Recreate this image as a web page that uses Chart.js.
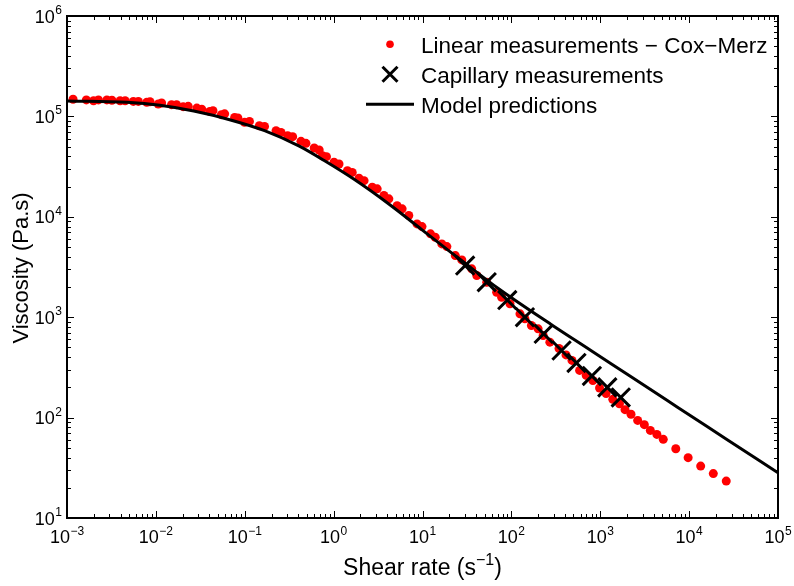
<!DOCTYPE html>
<html><head><meta charset="utf-8">
<script src="https://cdn.jsdelivr.net/npm/chart.js@4/dist/chart.umd.min.js"></script>
<style>html,body{margin:0;padding:0;background:#fff;}canvas{display:block;}</style>
</head><body>
<canvas id="c" width="794" height="586"></canvas>
<script>
// ---- data ----
const linearShearRate = [
  1.17e-3, 1.65e-3, 1.99e-3, 2.26e-3, 2.81e-3, 3.20e-3, 3.96e-3, 4.51e-3, 5.58e-3, 6.35e-3,
  7.89e-3, 8.59e-3, 1.064e-2, 1.16e-2, 1.50e-2, 1.71e-2, 2.03e-2, 2.31e-2, 2.89e-2, 3.28e-2,
  4.04e-2, 4.39e-2, 5.46e-2, 5.94e-2, 7.69e-2, 8.37e-2, 9.95e-2, 0.113, 0.146, 0.167,
  0.225, 0.256, 0.304, 0.346, 0.429, 0.488, 0.605, 0.688, 0.749, 0.831,
  1.01, 1.15, 1.43, 1.62, 1.93, 2.20, 2.72, 3.09, 3.68, 4.18,
  5.18, 5.90, 7.01, 8.68, 9.87, 12.3, 13.9, 16.5, 18.8, 23.4,
  27.7, 35.8, 40.8, 52.8, 68.3, 77.7, 96.5, 125, 142, 168,
  200, 228, 271, 344, 412, 481, 586, 695, 826, 982,
  1164, 1384, 1645, 1900, 2219, 2637, 3134, 3659, 4337, 5117,
  7079, 9745, 13490, 18710, 26160
];
const linearViscosity = [
  1.48e5, 1.46e5, 1.43e5, 1.46e5, 1.46e5, 1.45e5, 1.43e5, 1.43e5, 1.41e5, 1.41e5,
  1.38e5, 1.40e5, 1.33e5, 1.36e5, 1.31e5, 1.31e5, 1.25e5, 1.26e5, 1.21e5, 1.18e5,
  1.12e5, 1.14e5, 1.04e5, 1.06e5, 9.77e4, 9.64e4, 8.72e4, 8.92e4, 8.08e4, 7.95e4,
  7.21e4, 6.93e4, 6.43e4, 6.28e4, 5.64e4, 5.39e4, 4.85e4, 4.63e4, 4.06e4, 3.97e4,
  3.49e4, 3.36e4, 2.88e4, 2.77e4, 2.42e4, 2.29e4, 1.97e4, 1.90e4, 1.63e4, 1.51e4,
  1.29e4, 1.20e4, 1.03e4, 8500, 7990, 6760, 6250, 5370, 5050, 4110,
  3720, 3030, 2600, 2230, 1770, 1580, 1360, 1080, 964, 827,
  766, 658, 564, 488, 421, 371, 295, 263, 234, 197,
  174, 152, 137, 120, 108, 93.8, 85.0, 74.6, 68.0, 60.7,
  49.0, 39.9, 32.9, 27.7, 23.3
];
const capillaryShearRate = [30.2, 52.8, 90.0, 142, 231, 367, 540, 805, 1201, 1701];
const capillaryViscosity = [3270, 2230, 1480, 1000, 684, 466, 350, 260, 200, 159];
const modelShearRate = [1e-3, 4.75e-3, 1.11e-2, 2.67e-2, 6.76e-2, 0.167, 0.411, 0.783, 1.70, 4.18,
  9.80, 19.7, 27.5, 71.3, 280, 785, 2201, 7396, 26850, 1e5];
const modelViscosity = [1.42e5, 1.38e5, 1.29e5, 1.13e5, 9.27e4, 7.21e4, 5.05e4, 3.63e4, 2.36e4, 1.34e4,
  7460, 4610, 3670, 1930, 846, 466, 256, 127, 60.3, 28.2];

const xTickValues = [1e-3, 1e-2, 1e-1, 1, 10, 100, 1e3, 1e4, 1e5];
const xTickExponents = ['\u22123', '\u22122', '\u22121', '0', '1', '2', '3', '4', '5'];
const yTickValues = [10, 100, 1e3, 1e4, 1e5, 1e6];
const yTickExponents = ['1', '2', '3', '4', '5', '6'];
const seriesLabels = ['Linear measurements \u2212 Cox\u2212Merz', 'Capillary measurements', 'Model predictions'];
const xAxisTitle = ['Shear rate (s', '\u22121', ')'];
const yAxisTitle = 'Viscosity (Pa.s)';

const FONT = '"Liberation Sans", Arial, Helvetica, sans-serif';
const toXY = (xs, ys) => xs.map((v, i) => ({x: v, y: ys[i]}));

const decor = {
  id: 'decor',
  afterDraw(chart) {
    const {ctx, chartArea: a, scales: {x, y}} = chart;
    ctx.save();
    ctx.fillStyle = '#000';
    ctx.strokeStyle = '#000';
    // minor + major ticks (inward, all four sides)
    ctx.lineWidth = 1;
    ctx.beginPath();
    const xt = (v, len) => {
      const p = Math.round(x.getPixelForValue(v)) + 0.5;
      ctx.moveTo(p, a.bottom); ctx.lineTo(p, a.bottom - len);
      ctx.moveTo(p, a.top); ctx.lineTo(p, a.top + len);
    };
    const yt = (v, len) => {
      const p = Math.round(y.getPixelForValue(v)) + 0.5;
      ctx.moveTo(a.left, p); ctx.lineTo(a.left + len, p);
      ctx.moveTo(a.right, p); ctx.lineTo(a.right - len, p);
    };
    xTickValues.forEach((v, i) => {
      xt(v, 7);
      if (i < xTickValues.length - 1) for (let m = 2; m <= 9; m++) xt(v * m, 4);
    });
    yTickValues.forEach((v, i) => {
      yt(v, 7);
      if (i < yTickValues.length - 1) for (let m = 2; m <= 9; m++) yt(v * m, 4);
    });
    ctx.stroke();
    // box
    ctx.lineWidth = 2;
    ctx.strokeRect(a.left, a.top, a.right - a.left, a.bottom - a.top);

    // tick labels
    ctx.textBaseline = 'alphabetic';
    ctx.textAlign = 'left';
    const measure = (t, f) => { ctx.font = f; return ctx.measureText(t).width; };
    const big = '18px ' + FONT, small = '12px ' + FONT;
    const pow = (exp, left, base) => {
      ctx.font = big; ctx.fillText('10', left, base);
      const w = ctx.measureText('10').width;
      ctx.font = small; ctx.fillText(exp, left + w + 0.5, base - 8.5);
    };
    xTickValues.forEach((v, i) => {
      const w = measure('10', big) + 0.5 + measure(xTickExponents[i], small);
      pow(xTickExponents[i], x.getPixelForValue(v) - w / 2, a.bottom + 25);
    });
    yTickValues.forEach((v, i) => {
      const w = measure('10', big) + 0.5 + measure(yTickExponents[i], small);
      pow(yTickExponents[i], a.left - 5 - w, y.getPixelForValue(v) + 6.5);
    });

    // x axis title with superscript
    const tf = '23px ' + FONT, sf = '16px ' + FONT;
    const w0 = measure(xAxisTitle[0], tf), w1 = measure(xAxisTitle[1], sf), w2 = measure(xAxisTitle[2], tf);
    let sx = (a.left + a.right) / 2 - (w0 + w1 + w2) / 2;
    const by = a.bottom + 57;
    ctx.font = tf; ctx.fillText(xAxisTitle[0], sx, by);
    ctx.font = sf; ctx.fillText(xAxisTitle[1], sx + w0, by - 10);
    ctx.font = tf; ctx.fillText(xAxisTitle[2], sx + w0 + w1, by);

    // y axis title
    ctx.save();
    ctx.translate(28, (a.top + a.bottom) / 2 + 1);
    ctx.rotate(-Math.PI / 2);
    ctx.font = '22px ' + FONT;
    ctx.textAlign = 'center';
    ctx.fillText(yAxisTitle, 0, 0);
    ctx.restore();

    // legend
    const lx = 390, tx = 421;
    const rows = [a.top + 36.7, a.top + 66.7, a.top + 96.7];
    ctx.font = '22.5px ' + FONT;
    ctx.textAlign = 'left';
    chart.data.datasets.forEach((ds, i) => {
      const base = rows[i];
      const cy = base - 8.5;
      if (i === 0) {
        ctx.fillStyle = '#ff0000';
        ctx.beginPath(); ctx.arc(lx, cy, 3.8, 0, Math.PI * 2); ctx.fill();
      } else if (i === 1) {
        ctx.lineWidth = 3; ctx.strokeStyle = '#000';
        const d = 7.5;
        ctx.beginPath();
        ctx.moveTo(lx - d, cy - d); ctx.lineTo(lx + d, cy + d);
        ctx.moveTo(lx + d, cy - d); ctx.lineTo(lx - d, cy + d);
        ctx.stroke();
      } else {
        ctx.lineWidth = 3; ctx.strokeStyle = '#000';
        ctx.beginPath(); ctx.moveTo(366, cy); ctx.lineTo(414, cy); ctx.stroke();
      }
      ctx.fillStyle = '#000';
      ctx.fillText(ds.label, tx, base);
    });
    ctx.restore();
  }
};

new Chart(document.getElementById('c'), {
  type: 'scatter',
  data: {
    datasets: [
      {
        label: seriesLabels[0],
        data: toXY(linearShearRate, linearViscosity),
        pointStyle: 'circle', pointRadius: 4.5, pointHoverRadius: 4.5,
        backgroundColor: '#ff0000', borderColor: '#ff0000', borderWidth: 0,
        showLine: false, order: 3
      },
      {
        label: seriesLabels[1],
        data: toXY(capillaryShearRate, capillaryViscosity),
        pointStyle: 'crossRot', pointRadius: 13, pointHoverRadius: 13,
        backgroundColor: '#000', borderColor: '#000', borderWidth: 3,
        showLine: false, order: 2
      },
      {
        label: seriesLabels[2],
        data: toXY(modelShearRate, modelViscosity),
        showLine: true, pointRadius: 0, pointHoverRadius: 0,
        borderColor: '#000', borderWidth: 3, fill: false,
        cubicInterpolationMode: 'monotone', order: 1
      }
    ]
  },
  options: {
    responsive: false,
    devicePixelRatio: 1,
    animation: false,
    events: [],
    layout: {padding: {left: 67, right: 13, top: 15, bottom: 68}},
    plugins: {legend: {display: false}, tooltip: {enabled: false}, title: {display: false}},
    scales: {
      x: {type: 'logarithmic', min: 1e-3, max: 1e5, display: false},
      y: {type: 'logarithmic', min: 10, max: 1e6, display: false}
    }
  },
  plugins: [decor]
});
</script>
</body></html>
